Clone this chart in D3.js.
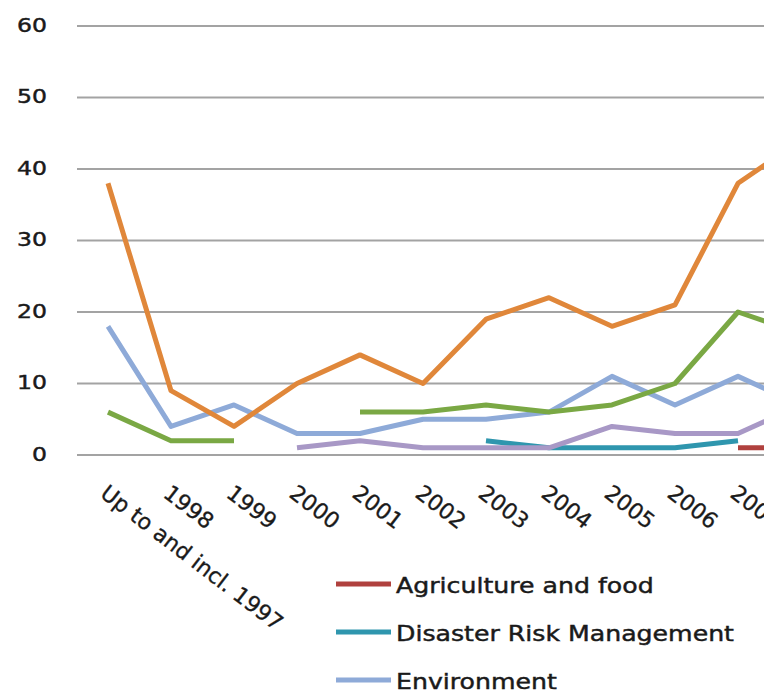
<!DOCTYPE html>
<html>
<head>
<meta charset="utf-8">
<script src="https://cdn.jsdelivr.net/npm/d3@7"></script>
<style>
  html, body { margin: 0; padding: 0; background: #fff; }
  svg { display: block; }
  text { font-family: "DejaVu Sans", sans-serif; fill: #1a1a1a; stroke: #1a1a1a; stroke-width: 0.45px; }
</style>
</head>
<body>
<svg id="chart" width="764" height="691"></svg>
<script>
// Categories along the x axis
const categories = ["Up to and incl. 1997", "1998", "1999", "2000", "2001", "2002",
                    "2003", "2004", "2005", "2006", "2007", "2008"];

// Y axis ticks
const yTicks = [0, 10, 20, 30, 40, 50, 60];

// Series values per category (null = no value that year)
const agricultureValues = [null, null, null, null, null, null, null, null, null, null, 1, 1];
const disasterValues    = [null, null, null, null, null, null, 2, 1, 1, 1, 2, null];
const environmentValues = [18, 4, 7, 3, 3, 5, 5, 6, 11, 7, 11, 7];
const greenValues       = [6, 2, 2, null, 6, 6, 7, 6, 7, 10, 20, 17];
const orangeValues      = [38, 9, 4, 10, 14, 10, 19, 22, 18, 21, 38, 44];
const purpleValues      = [null, null, null, 1, 2, 1, 1, 1, 4, 3, 3, 7];

// Legend entries shown under the plot
const legendNames = ["Agriculture and food", "Disaster Risk Management", "Environment"];

const series = [
  { values: agricultureValues, color: "#b0413e" },
  { values: disasterValues,    color: "#2f96ae" },
  { values: environmentValues, color: "#8eaad8" },
  { values: greenValues,       color: "#7aa844" },
  { values: orangeValues,      color: "#e0873a" },
  { values: purpleValues,      color: "#a898c6" }
];
const legendColors = ["#b0413e", "#2f96ae", "#8eaad8"];

const svg = d3.select("#chart");

const x = d3.scalePoint().domain(categories).range([108, 108 + 63 * 11]);
const y = d3.scaleLinear().domain([0, 60]).range([455, 26]);

// Horizontal gridlines
svg.append("g")
  .selectAll("line")
  .data(yTicks)
  .join("line")
  .attr("x1", 77)
  .attr("x2", 800)
  .attr("y1", d => y(d))
  .attr("y2", d => y(d))
  .attr("stroke", "#a3a3a3")
  .attr("stroke-width", 2);

// Y tick labels
svg.append("g")
  .selectAll("g")
  .data(yTicks)
  .join("g")
  .attr("transform", d => `translate(47,${y(d) - 1}) scale(1.24,1)`)
  .append("text")
  .attr("text-anchor", "end")
  .attr("dy", "0.36em")
  .style("font-size", "19px")
  .text(d => d);

// Series lines
const line = d3.line()
  .defined(d => d.v !== null)
  .x(d => x(d.c))
  .y(d => y(d.v));

svg.append("g")
  .selectAll("path")
  .data(series)
  .join("path")
  .attr("d", s => line(s.values.map((v, i) => ({ c: categories[i], v }))))
  .attr("fill", "none")
  .attr("stroke", s => s.color)
  .attr("stroke-width", 5)
  .attr("stroke-linejoin", "round")
  .attr("stroke-linecap", "butt");

// Rotated category labels
svg.append("g")
  .selectAll("text")
  .data(categories)
  .join("text")
  .attr("transform", d => `translate(${x(d) - 9},496) rotate(37.5)`)
  .attr("text-anchor", "start")
  .style("font-size", "22px")
  .style("stroke-width", "0.35px")
  .text(d => d);

// Legend
const legend = svg.append("g")
  .selectAll("g")
  .data(legendNames)
  .join("g")
  .attr("transform", (d, i) => `translate(336,${584 + i * 48})`);

legend.append("line")
  .attr("x1", 0).attr("x2", 55)
  .attr("y1", 0).attr("y2", 0)
  .attr("stroke", (d, i) => legendColors[i])
  .attr("stroke-width", 5);

legend.append("g")
  .attr("transform", "translate(60,9) scale(1.2,1)")
  .append("text")
  .style("font-size", "21px")
  .text(d => d);
</script>
</body>
</html>
